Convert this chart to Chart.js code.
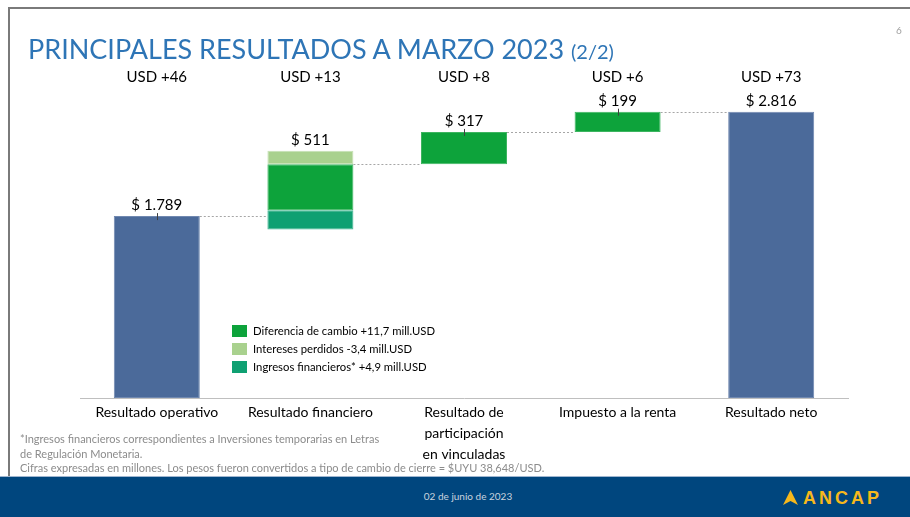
<!DOCTYPE html>
<html>
<head>
<meta charset="utf-8">
<script src="https://cdn.jsdelivr.net/npm/chart.js@4.4.0/dist/chart.umd.min.js"></script>
<style>
  html, body { margin: 0; padding: 0; background: #fff; }
  #slide { position: relative; width: 910px; height: 517px; overflow: hidden; font-family: Lato, "Open Sans", sans-serif; }
  #chart { position: absolute; left: 0; top: 0; z-index: 1; }
  .frame-top { position: absolute; left: 8px; right: 0; top: 7px; border-top: 2px solid #7a7a7a; z-index: 2; }
  .frame-left { position: absolute; left: 8px; top: 7px; height: 470px; border-left: 2px solid #7a7a7a; z-index: 2; }
  .title { position: absolute; left: 28px; top: 32px; color: #2E75B6; font-size: 27px; white-space: nowrap; z-index: 2; }
  .title small { font-size: 20px; }
  .pagenum { position: absolute; left: 896px; top: 24px; color: #a0a0a0; font-size: 10px; z-index: 2; }
  .notes { position: absolute; left: 20px; top: 432px; color: #8c8c8c; font-size: 11px; line-height: 14.5px; z-index: 2; }
  .footer { position: absolute; left: 0; top: 476px; width: 910px; height: 41px; background: #00467E; border-top: 1px solid #9fb6d0; z-index: 2; }
  .footer .date { position: absolute; left: 0; width: 936px; top: 13px; text-align: center; color: #c9d3df; font-size: 10px; }
  .footer .logo { position: absolute; left: 783px; top: 11px; color: #F6B81C; font-family: "Liberation Sans", Arial, sans-serif; font-weight: bold; font-size: 18px; letter-spacing: 3px; }
  .footer .logo svg { vertical-align: -1px; margin-right: 5px; }
</style>
</head>
<body>
<div id="slide">
  <canvas id="chart" width="910" height="517"></canvas>
  <div class="frame-top"></div>
  <div class="frame-left"></div>
  <div class="title">PRINCIPALES RESULTADOS A MARZO 2023 <small>(2/2)</small></div>
  <div class="pagenum">6</div>
  <div class="notes">*Ingresos financieros correspondientes a Inversiones temporarias en Letras<br>de Regulación Monetaria.<br>Cifras expresadas en millones. Los pesos fueron convertidos a tipo de cambio de cierre = $UYU 38,648/USD.</div>
  <div class="footer">
    <div class="date">02 de junio de 2023</div>
    <div class="logo"><svg width="15" height="15" viewBox="0 0 15 15"><polygon points="0,15 7.5,0 15,15 7.5,11" fill="#F6B81C"/></svg>ANCAP</div>
  </div>
</div>
<script>
// categorias del puente (millones de $)
const categories = ['Resultado operativo', 'Resultado financiero', ['Resultado de', 'participación', 'en vinculadas'], 'Impuesto a la renta', 'Resultado neto'];
const resultadoOperativo = 1789;
const resultadoNeto = 2816;
const stepValues = [317, 199];          // vinculadas, impuesto
// apertura del resultado financiero
const finLabels = ['Diferencia de cambio +11,7 mill.USD', 'Intereses perdidos -3,4 mill.USD', 'Ingresos financieros* +4,9 mill.USD'];
const finValues = [453, -131, 189];
const usdLabels = ['USD +46', 'USD +13', 'USD +8', 'USD +6', 'USD +73'];
const valueLabels = ['$ 1.789', '$ 511', '$ 317', '$ 199', '$ 2.816'];

const BLUE = '#4B6A9A', GREEN = '#0DA33B', LIGHT = '#A9D18E', TEAL = '#0FA072';

// floating ranges for the financial block: negative part pushes the base down
const finTotal = finValues.reduce((a, b) => a + b, 0);
const finBase = resultadoOperativo + finValues[1];
const tealRange = [finBase, finBase + finValues[2]];
const greenRange = [tealRange[1], tealRange[1] + finValues[0]];
const lightRange = [greenRange[1], greenRange[1] - finValues[1]];
const afterFin = resultadoOperativo + finTotal;
const vincRange = [afterFin, afterFin + stepValues[0]];
const impRange = [vincRange[1], vincRange[1] + stepValues[1]];
const levels = [resultadoOperativo, afterFin, vincRange[1], impRange[1]];

const waterfallExtras = {
    id: 'waterfallExtras',
    afterDatasetsDraw(chart, args, opts) {
        const { ctx, chartArea, scales: { y } } = chart;
        const n = chart.data.labels.length;
        const bars = [];
        for (let i = 0; i < n; i++) {
            let box = null;
            chart.data.datasets.forEach((ds, d) => {
                if (ds.data[i] == null) return;
                const el = chart.getDatasetMeta(d).data[i];
                const top = Math.min(el.y, el.base);
                if (!box) box = { x: el.x, w: el.width, top: top };
                else box.top = Math.min(box.top, top);
            });
            bars.push(box);
        }
        ctx.save();
        // dotted connectors
        ctx.strokeStyle = '#a6a6a6';
        ctx.lineWidth = 1;
        ctx.setLineDash([2, 2]);
        for (let i = 0; i < n - 1; i++) {
            const py = Math.round(y.getPixelForValue(levels[i])) + 0.5;
            ctx.beginPath();
            ctx.moveTo(bars[i].x + bars[i].w / 2, py);
            ctx.lineTo(bars[i + 1].x - bars[i + 1].w / 2, py);
            ctx.stroke();
        }
        ctx.setLineDash([]);
        // small leader ticks
        ctx.strokeStyle = '#404040';
        opts.ticks.forEach(i => {
            const px = Math.round(bars[i].x) + 0.5;
            ctx.beginPath();
            ctx.moveTo(px, bars[i].top - 3);
            ctx.lineTo(px, bars[i].top + 4);
            ctx.stroke();
        });
        // value and USD labels
        ctx.fillStyle = '#000';
        ctx.textAlign = 'center';
        ctx.textBaseline = 'middle';
        ctx.font = '15px Lato, sans-serif';
        bars.forEach((b, i) => {
            ctx.fillText(valueLabels[i], b.x, b.top - 11);
            ctx.fillText(usdLabels[i], b.x, chartArea.top - 16);
        });
        // legend of the financial breakdown
        ctx.font = '11.3px Lato, sans-serif';
        ctx.textAlign = 'left';
        opts.legend.forEach((item, k) => {
            const ly = opts.legendY + k * 18;
            ctx.fillStyle = item.color;
            ctx.fillRect(opts.legendX, ly - 6, 15, 12);
            ctx.fillStyle = '#000';
            ctx.fillText(item.text, opts.legendX + 21, ly);
        });
        ctx.restore();
    }
};

new Chart(document.getElementById('chart'), {
    type: 'bar',
    plugins: [waterfallExtras],
    data: {
        labels: categories,
        datasets: [
            { label: 'Totales', data: [resultadoOperativo, null, null, null, resultadoNeto], backgroundColor: BLUE, borderColor: '#7088b0' },
            { label: finLabels[2], data: [null, tealRange, null, null, null], backgroundColor: TEAL, borderColor: '#3db592' },
            { label: finLabels[0], data: [null, greenRange, null, null, null], backgroundColor: GREEN, borderColor: '#3db560' },
            { label: finLabels[1], data: [null, lightRange, null, null, null], backgroundColor: LIGHT, borderColor: '#c6e1b4' },
            { label: 'Variaciones', data: [null, null, vincRange, impRange, null], backgroundColor: GREEN, borderColor: '#3db560' }
        ]
    },
    options: {
        responsive: false,
        animation: false,
        events: [],
        layout: { padding: { left: 80, right: 62, top: 93, bottom: 48 } },
        datasets: {
            bar: { grouped: false, categoryPercentage: 1, barPercentage: 0.56, borderWidth: 1, borderSkipped: false }
        },
        scales: {
            x: {
                grid: { display: false, drawTicks: false },
                border: { display: true, color: '#bfbfbf', width: 1 },
                ticks: { color: '#000', font: { family: 'Lato', size: 14, lineHeight: 1.5 }, padding: 4, maxRotation: 0, autoSkip: false }
            },
            y: { display: false, min: 0, max: 3000 }
        },
        plugins: {
            legend: { display: false },
            tooltip: { enabled: false },
            waterfallExtras: {
                ticks: [0, 2, 3],
                legendX: 232,
                legendY: 331,
                legend: [
                    { text: finLabels[0], color: GREEN },
                    { text: finLabels[1], color: LIGHT },
                    { text: finLabels[2], color: TEAL }
                ]
            }
        }
    }
});
</script>
</body>
</html>
